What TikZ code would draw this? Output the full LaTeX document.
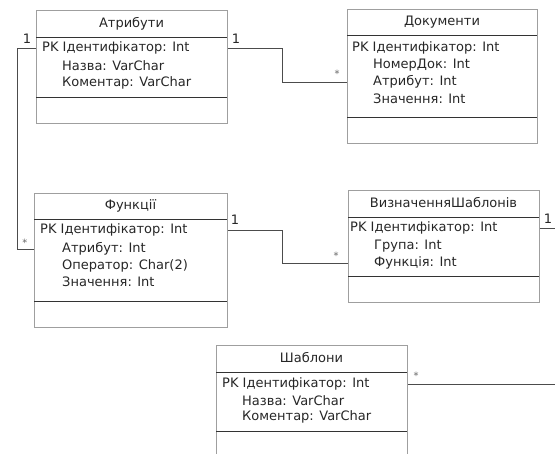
\documentclass[tikz,border=0pt]{standalone}
\usepackage{fontspec}
\setmainfont{DejaVu Sans}
\usetikzlibrary{calc}

\tikzset{
  classbox/.style={draw=gray!75,line width=0.9pt,anchor=north west,inner sep=0pt},
  title/.style={font=\fontsize{13}{15}\selectfont,text=black!85},
  field/.style={anchor=west,inner sep=0pt,font=\fontsize{13}{15}\selectfont,text=black!85},
  sep/.style={draw=black!80,line width=0.9pt},
  link/.style={draw=black!70,line width=0.9pt},
  mult/.style={inner sep=0pt,font=\fontsize{13}{15}\selectfont,text=black!85},
  many/.style={inner sep=0pt,font=\fontsize{10}{11}\selectfont,text=black!60}
}

\begin{document}
\begin{tikzpicture}[x=1pt,y=-1pt]
      \clip (0,0) rectangle (555,454);

      % Атрибути
      \node[classbox,minimum width=191,minimum height=113] (atr) at (36,10) {};
      \draw[sep] (36,37) -- (227,37);
      \draw[sep] (36,97) -- (227,97);
      \node[title] (atrt) at (131.5,23.5) {Атрибути};
      \node[field] (atrid) at (42,48) {PK Ідентифікатор: Int};
      \node[field] (atrname) at (62,66) {Назва: VarChar};
      \node[field] (atrnote) at (62,83) {Коментар: VarChar};

      % Документи
      \node[classbox,minimum width=190,minimum height=134] (dok) at (347,9) {};
      \draw[sep] (347,35) -- (537,35);
      \draw[sep] (347,117) -- (537,117);
      \node[title] (dokt) at (442,22) {Документи};
      \node[field] (dokid) at (352,48) {PK Ідентифікатор: Int};
      \node[field] (doknum) at (373,65) {НомерДок: Int};
      \node[field] (dokatr) at (373,82) {Атрибут: Int};
      \node[field] (dokval) at (373,99) {Значення: Int};

      % Функції
      \node[classbox,minimum width=193,minimum height=134] (fun) at (34,193) {};
      \draw[sep] (34,219) -- (227,219);
      \draw[sep] (34,301) -- (227,301);
      \node[title] (funt) at (130.5,206) {Функції};
      \node[field] (funid) at (40,230) {PK Ідентифікатор: Int};
      \node[field] (funatr) at (62,249) {Атрибут: Int};
      \node[field] (funop) at (62,266) {Оператор: Char(2)};
      \node[field] (funval) at (62,282) {Значення: Int};

      % ВизначенняШаблонів
      \node[classbox,minimum width=191,minimum height=112] (viz) at (348,190) {};
      \draw[sep] (348,217) -- (539,217);
      \draw[sep] (348,276) -- (539,276);
      \node[title] (vizt) at (443.5,203) {ВизначенняШаблонів};
      \node[field] (vizid) at (350,228) {PK Ідентифікатор: Int};
      \node[field] (vizgrp) at (374,246) {Група: Int};
      \node[field] (vizfun) at (374,263) {Функція: Int};

      % Шаблони
      \node[classbox,minimum width=191,minimum height=112] (shb) at (216,345) {};
      \draw[sep] (216,372) -- (407,372);
      \draw[sep] (216,431) -- (407,431);
      \node[title] (shbt) at (311.5,358) {Шаблони};
      \node[field] (shbid) at (222,384) {PK Ідентифікатор: Int};
      \node[field] (shbname) at (242,401) {Назва: VarChar};
      \node[field] (shbnote) at (242,417) {Коментар: VarChar};

      % зв'язки
      \draw[link] (atr.east |- atrid) -- ++(55,0) |- (dok.west |- dokatr);
      \draw[link] (atr.west |- atrid) -- ++(-19,0) |- (fun.west |- funatr);
      \draw[link] (fun.east |- funid) -- ++(55,0) |- (viz.west |- vizfun);
      \draw[link] (viz.east |- vizid) -- ++(25,0) |- (shb.east |- shbid);

      \node[mult] (m1) at (27,39) {1};
      \node[mult] (m2) at (236,39) {1};
      \node[many] (m3) at (337,74) {*};
      \node[many] (m4) at (25,243) {*};
      \node[mult] (m5) at (235,220) {1};
      \node[many] (m6) at (336,256) {*};
      \node[mult] (m7) at (548,219) {1};
      \node[many] (m8) at (416,376) {*};
    \end{tikzpicture}
\end{document}
